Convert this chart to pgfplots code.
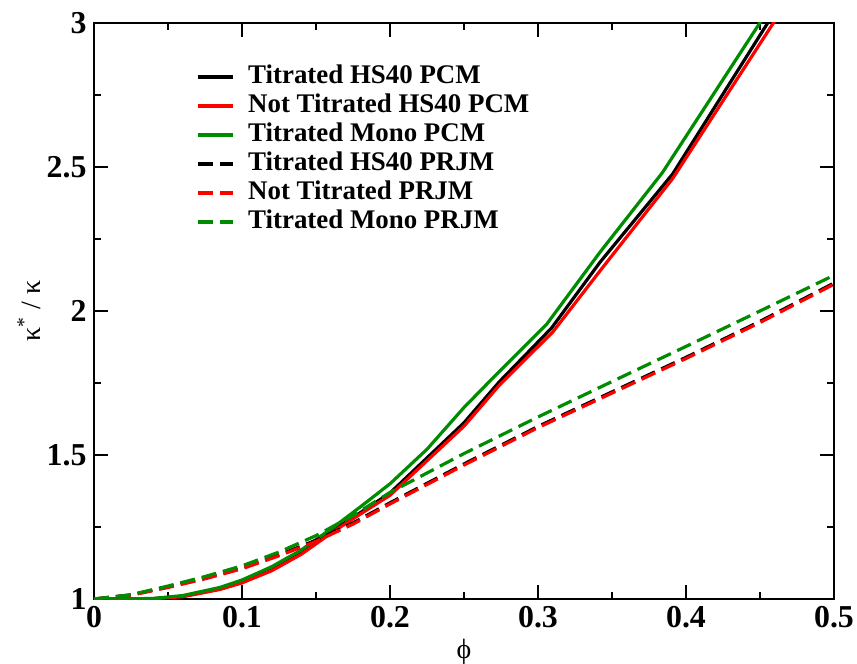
\documentclass[border=0pt]{standalone}
\usepackage{pgfplots}
\pgfplotsset{compat=1.18}
\usepackage{fontspec}
\setmainfont{Liberation Serif}
\definecolor{ggreen}{RGB}{0,140,0}
\begin{document}
\begin{tikzpicture}
\path[use as bounding box] (-47bp,-32.5bp) rectangle (381.5bp,299.5bp);
\begin{axis}[
  at={(0,0)}, anchor=south west,
  width=370bp, height=288bp, scale only axis,
  xmin=0, xmax=0.5, ymin=1, ymax=3,
  xtick={0,0.1,0.2,0.3,0.4,0.5}, ytick={1,1.5,2,2.5,3},
  minor x tick num=1, minor y tick num=1,
  tick align=inside, xtick pos=both, ytick pos=both,
  xticklabel pos=lower, yticklabel pos=left,
  major tick length=7bp, minor tick length=3.5bp,
  every tick/.style={line width=1bp, black},
  axis line style={line width=1bp},
  /pgf/number format/assume math mode=true,
  ticklabel style={font=\fontsize{16}{16}\selectfont\bfseries},
  yticklabel style={inner xsep=3.5bp},
  xlabel={ϕ},
  xlabel style={font=\fontsize{14}{14}\selectfont, at={(axis description cs:0.5,-0.092)}, anchor=center},
  ylabel={κ\textsuperscript{*} / κ},
  ylabel style={font=\fontsize{14}{14}\selectfont, at={(axis description cs:-0.0878,0.5)}, anchor=center},
  legend cell align=left,
  legend style={draw=none, fill=none, at={(axis description cs:0.1378,0.9314)}, anchor=north west,
    inner sep=0pt, outer sep=0pt, row sep=0pt,
    font=\fontsize{13.5}{14.5}\selectfont\bfseries,
    nodes={inner ysep=1bp, inner xsep=0pt, text height=9.5bp, text depth=3bp},
    /tikz/every odd column/.append style={column sep=7bp}},
  legend image code/.code={\draw[#1] (0bp,0bp) -- (17.5bp,0bp);},
  every axis plot/.append style={line width=1.6bp},
]
\addplot[black] coordinates {(0,1.0) (0.02,1.0) (0.04,1.001) (0.06,1.009) (0.085,1.035) (0.1,1.058) (0.12,1.1) (0.14,1.158) (0.162,1.24) (0.18,1.30) (0.2,1.368) (0.225,1.49) (0.25,1.612) (0.274,1.755) (0.309,1.94) (0.342,2.17) (0.391,2.476) (0.465,3.08)};
\addlegendentry{Titrated HS40 PCM}
\addplot[red] coordinates {(0,1.0) (0.02,1.0) (0.04,1.001) (0.06,1.008) (0.085,1.033) (0.1,1.056) (0.12,1.098) (0.14,1.155) (0.162,1.235) (0.18,1.295) (0.2,1.36) (0.225,1.48) (0.25,1.6) (0.274,1.743) (0.31,1.927) (0.342,2.14) (0.391,2.46) (0.47,3.087)};
\addlegendentry{Not Titrated HS40 PCM}
\addplot[ggreen] coordinates {(0,1.0) (0.02,1.0) (0.04,1.002) (0.06,1.012) (0.085,1.04) (0.1,1.066) (0.12,1.112) (0.14,1.17) (0.162,1.25) (0.18,1.32) (0.2,1.40) (0.225,1.52) (0.25,1.665) (0.27,1.77) (0.306,1.955) (0.342,2.205) (0.384,2.48) (0.46,3.08)};
\addlegendentry{Titrated Mono PCM}
\addplot[black, dash pattern=on 7.5bp off 3.5bp] coordinates {(0,1.0) (0.025,1.014) (0.05,1.042) (0.075,1.073) (0.1,1.108) (0.125,1.153) (0.15,1.204) (0.175,1.264) (0.2,1.334) (0.25,1.469) (0.3,1.599) (0.35,1.719) (0.4,1.839) (0.45,1.964) (0.5,2.097)};
\addlegendentry{Titrated HS40 PRJM}
\addplot[red, dash pattern=on 7.5bp off 3.5bp] coordinates {(0,1.0) (0.025,1.013) (0.05,1.04) (0.075,1.07) (0.1,1.105) (0.125,1.15) (0.15,1.2) (0.175,1.26) (0.2,1.33) (0.25,1.465) (0.3,1.595) (0.35,1.715) (0.4,1.835) (0.45,1.96) (0.5,2.093)};
\addlegendentry{Not Titrated PRJM}
\addplot[ggreen, dash pattern=on 7.5bp off 3.5bp] coordinates {(0,1.0) (0.025,1.015) (0.05,1.045) (0.075,1.078) (0.1,1.115) (0.125,1.163) (0.15,1.22) (0.175,1.29) (0.2,1.37) (0.25,1.505) (0.3,1.632) (0.35,1.755) (0.4,1.877) (0.45,2.0) (0.5,2.124)};
\addlegendentry{Titrated Mono PRJM}
\end{axis}
\end{tikzpicture}
\end{document}
